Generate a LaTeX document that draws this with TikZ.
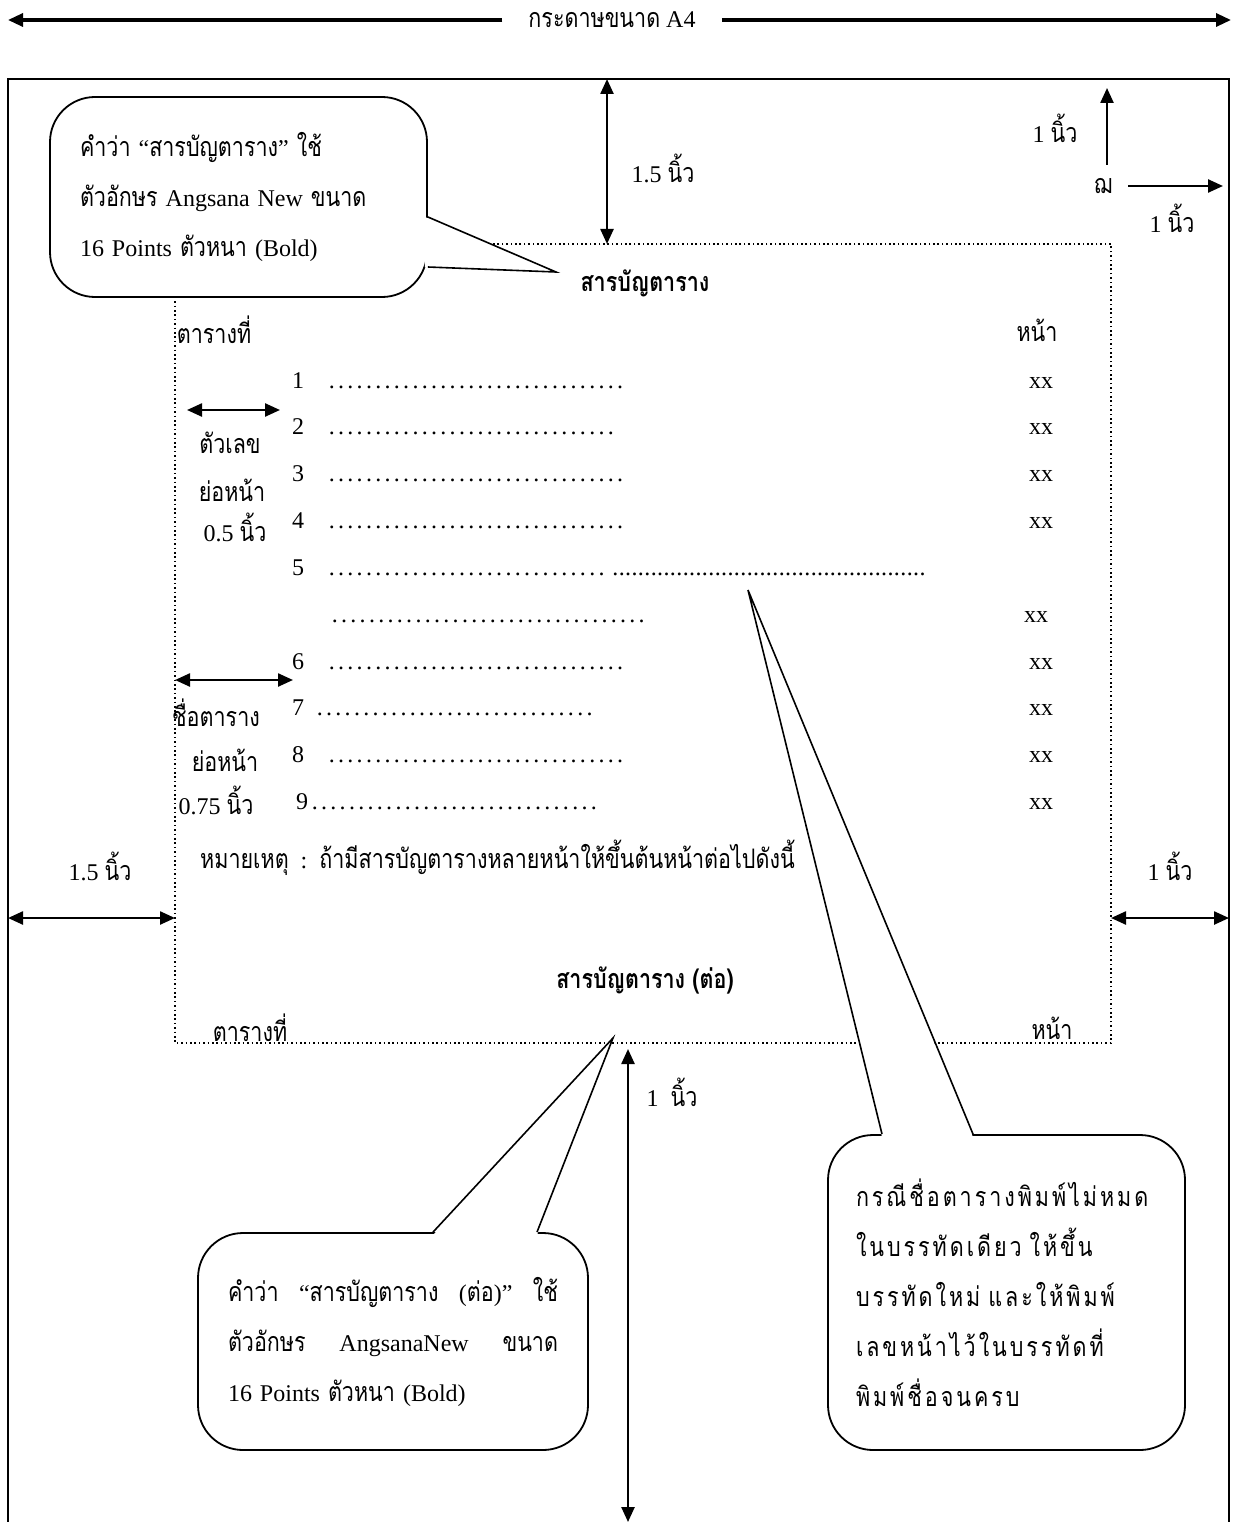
\documentclass[tikz,border=0pt]{standalone}
\usepackage{fontspec}
\setmainfont{Liberation Serif}
\newfontfamily\thaifont[Script=Thai,Scale=1.12,FakeStretch=0.8]{Loma}
\newfontfamily\thaiwide[Script=Thai,Scale=1.12,FakeStretch=0.8,LetterSpace=11]{Loma}
\usetikzlibrary{arrows.meta,positioning}
\newcommand{\thtxt}[1]{{\thaifont #1}}
\newcommand{\tocdots}[2][9.3pt]{\hbox to #2pt{\leaders\hbox to #1{\hss.\hss}\hfill}}
\tikzset{
	tt/.style={{Triangle[length=15pt,width=13pt]}-{Triangle[length=15pt,width=13pt]},line width=2.4pt},
	-t/.style={-{Triangle[length=15pt,width=13pt]},line width=2.4pt},
	txt/.style={inner sep=0pt,font=\fontsize{24}{28}\selectfont},
	margin/.style={line width=1.6pt,dash pattern=on 1.6pt off 2.8pt},
	bubble/.style={draw,fill=white,rounded corners=45pt,line width=1.8pt,inner xsep=30pt,align=left,font=\fontsize{24}{50}\selectfont},
	tail/.style={line width=1.6pt}
}
\begin{document}
\begin{tikzpicture}[x=1pt,y=-1pt]
            \useasboundingbox (0,0) rectangle (1233,1522);
            % paper
            \node[txt,inner xsep=26pt] (a4) at (612,20) {\thtxt{กระดาษขนาด} A4};
            \coordinate (a4l) at (8,20);
            \coordinate (a4r) at (1231,20);
            \draw[-t,line width=3.2pt] (a4.west) -- (a4l);
            \draw[-t,line width=3.2pt] (a4.east) -- (a4r);
            \draw[line width=2pt] (8,1530) -- (8,79) -- (1229,79) -- (1229,1530);
            \draw[margin] (175,244) rectangle (1111,1043);
            % top margin
            \coordinate (ptop) at (607,79);
            \coordinate (mtop) at (607,244);
            \draw[tt] (ptop) -- (mtop);
            \node[txt] (topgap) at (663,168) {1.5 \thtxt{นิ้ว}};
            \node[txt] (hdgap) at (1055,128) {1 \thtxt{นิ้ว}};
            \node[txt] (pgno) at (1103,186) {\thtxt{ฌ}};
            \coordinate (upfrom) at (1107,165);
            \coordinate (upto) at (1107,88);
            \draw[-t] (upfrom) -- (upto);
            \coordinate (rtto) at (1223,186);
            \draw[-t,shorten <=16pt] (pgno.east) -- (rtto);
            \node[txt] (rtgap) at (1172,218) {1 \thtxt{นิ้ว}};
            % first page
            \node[txt] (title) at (645,283) {\thtxt{\bfseries สารบัญตาราง}};
            \node[txt] (colno) at (214,330) {\thtxt{ตารางที่}};
            \node[txt] (colpg) at (1037,330) {\thtxt{หน้า}};
            \node[txt,anchor=base] (n1) at (298,388) {1};
            \node[txt,anchor=base west] (d1) at (327,388) {\tocdots{305}};
            \node[txt,anchor=base] (p1) at (1041,388) {xx};
            \node[txt,anchor=base] (n2) at (298,434) {2};
            \node[txt,anchor=base west] (d2) at (327,434) {\tocdots{293}};
            \node[txt,anchor=base] (p2) at (1041,434) {xx};
            \node[txt,anchor=base] (n3) at (298,481) {3};
            \node[txt,anchor=base west] (d3) at (327,481) {\tocdots{305}};
            \node[txt,anchor=base] (p3) at (1041,481) {xx};
            \node[txt,anchor=base] (n4) at (298,528) {4};
            \node[txt,anchor=base west] (d4) at (327,528) {\tocdots{305}};
            \node[txt,anchor=base] (p4) at (1041,528) {xx};
            \node[txt,anchor=base] (n5) at (298,575) {5};
            \node[txt,anchor=base west] (d5) at (327,575) {\tocdots{285}\tocdots[6.4pt]{318}};
            \node[txt,anchor=base west] (d5b) at (330,622) {\tocdots{320}};
            \node[txt,anchor=base] (p5) at (1036,622) {xx};
            \node[txt,anchor=base] (n6) at (298,669) {6};
            \node[txt,anchor=base west] (d6) at (327,669) {\tocdots{305}};
            \node[txt,anchor=base] (p6) at (1041,669) {xx};
            \node[txt,anchor=base] (n7) at (298,715) {7};
            \node[txt,anchor=base west] (d7) at (315,715) {\tocdots{286}};
            \node[txt,anchor=base] (p7) at (1041,715) {xx};
            \node[txt,anchor=base] (n8) at (298,762) {8};
            \node[txt,anchor=base west] (d8) at (327,762) {\tocdots{305}};
            \node[txt,anchor=base] (p8) at (1041,762) {xx};
            \node[txt,anchor=base] (n9) at (302,809) {9};
            \node[txt,anchor=base west] (d9) at (310,809) {\tocdots{289}};
            \node[txt,anchor=base] (p9) at (1041,809) {xx};
            % indents
            \coordinate (ind1a) at (187,410);
            \coordinate (ind1b) at (280,410);
            \draw[tt] (ind1a) -- (ind1b);
            \node[txt] (numind1) at (230,443) {\thtxt{ตัวเลข}};
            \node[txt] (numind2) at (232,490) {\thtxt{ย่อหน้า}};
            \node[txt] (numind3) at (235,527) {0.5 \thtxt{นิ้ว}};
            \coordinate (ind2a) at (175,680);
            \coordinate (ind2b) at (293,680);
            \draw[tt] (ind2a) -- (ind2b);
            \node[txt] (nameind1) at (216,713) {\thtxt{ชื่อตาราง}};
            \node[txt] (nameind2) at (225,760) {\thtxt{ย่อหน้า}};
            \node[txt] (nameind3) at (216,800) {0.75 \thtxt{นิ้ว}};
            % side margins
            \coordinate (lpage) at (8,918);
            \coordinate (lmar) at (175,918);
            \draw[tt] (lpage) -- (lmar);
            \node[txt] (lgap) at (100,866) {1.5 \thtxt{นิ้ว}};
            \coordinate (rmar) at (1111,918);
            \coordinate (rpage) at (1229,918);
            \draw[tt] (rmar) -- (rpage);
            \node[txt] (rgap) at (1170,866) {1 \thtxt{นิ้ว}};
            \node[txt,anchor=west] (remark) at (200,858) {\thtxt{หมายเหตุ}\ \ :\ \ \thtxt{ถ้ามีสารบัญตารางหลายหน้าให้ขึ้นต้นหน้าต่อไปดังนี้}};
            % next page
            \node[txt] (title2) at (645,980) {\thtxt{\bfseries สารบัญตาราง (ต่อ)}};
            \node[txt] (colno2) at (250,1028) {\thtxt{ตารางที่}};
            \node[txt] (colpg2) at (1052,1028) {\thtxt{หน้า}};
            \coordinate (mbot) at (628,1049);
            \coordinate (pbot) at (628,1522);
            \draw[tt] (mbot) -- (pbot);
            \node[txt] (botgap) at (672,1092) {1\ \ \thtxt{นิ้ว}};
            % callouts
            \node[bubble,minimum width=377pt,minimum height=200pt,text width=317pt] (note1) at (238.5,197) {\thtxt{คำว่า} “\thtxt{สารบัญตาราง}” \thtxt{ใช้}\\
                \thtxt{ตัวอักษร} Angsana New \thtxt{ขนาด}\\
                16 Points \thtxt{ตัวหนา} (Bold)};
            \coordinate (tip1) at (556,272);
            \fill[white] ([xshift=-3pt,yshift=-20pt]note1.east) -- (tip1) -- ([xshift=-3pt,yshift=-70pt]note1.east) -- cycle;
            \draw[tail] ([yshift=-20pt]note1.east) -- (tip1) -- ([yshift=-70pt]note1.east);
            \node[bubble,minimum width=390pt,minimum height=217pt,text width=330pt] (note2) at (393,1341.5) {\thtxt{คำว่า} \hfill “\thtxt{สารบัญตาราง} \hfill (\thtxt{ต่อ})” \hfill \thtxt{ใช้}\\
                \thtxt{ตัวอักษร} \hfill AngsanaNew \hfill \thtxt{ขนาด}\\
                16 Points \thtxt{ตัวหนา} (Bold)};
            \coordinate (tip2) at (613,1038);
            \fill[white] ([xshift=40pt,yshift=-3pt]note2.north) -- (tip2) -- ([xshift=144pt,yshift=-3pt]note2.north) -- cycle;
            \draw[tail] ([xshift=40pt]note2.north) -- (tip2) -- ([xshift=144pt]note2.north);
            \node[bubble,minimum width=357pt,minimum height=315pt,text width=301pt,inner xsep=28pt] (note3) at (1006.5,1292.5) {\thaiwide กรณีชื่อตารางพิมพ์ไม่หมด\\
                ในบรรทัดเดียว ให้ขึ้น\\
                บรรทัดใหม่ และให้พิมพ์\\
                เลขหน้าไว้ในบรรทัดที่\\
                พิมพ์ชื่อจนครบ};
            \coordinate (tip3) at (748,590);
            \fill[white] ([xshift=-124.5pt,yshift=-3pt]note3.north) -- (tip3) -- ([xshift=-33.5pt,yshift=-3pt]note3.north) -- cycle;
            \draw[tail] ([xshift=-124.5pt]note3.north) -- (tip3) -- ([xshift=-33.5pt]note3.north);
        \end{tikzpicture}
\end{document}
